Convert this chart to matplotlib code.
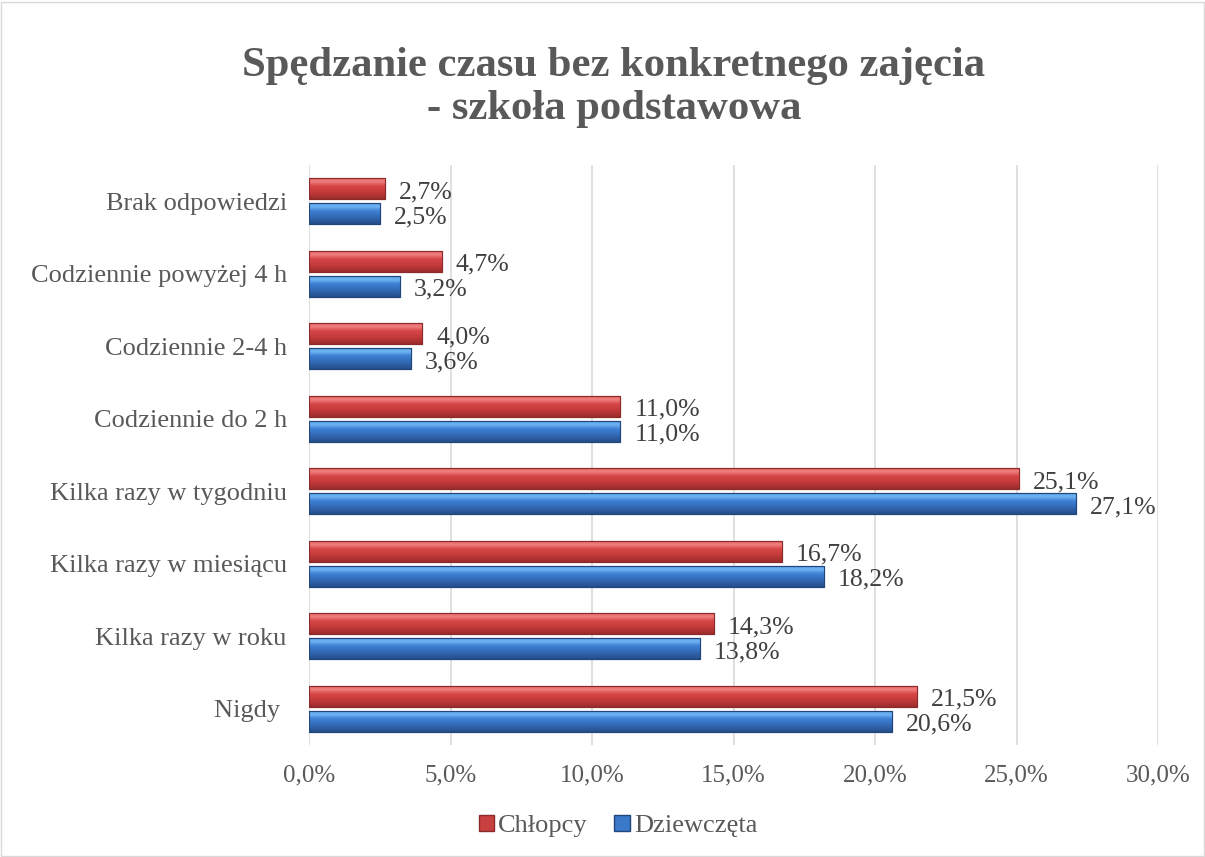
import matplotlib
matplotlib.use("Agg")
import matplotlib.pyplot as plt
import numpy as np
from matplotlib.colors import LinearSegmentedColormap
from matplotlib.patches import Rectangle, Patch

categories = ["Nigdy ", "Kilka razy w roku", "Kilka razy w miesiącu", "Kilka razy w tygodniu",
              "Codziennie do 2 h", "Codziennie 2-4 h", "Codziennie powyżej 4 h", "Brak odpowiedzi"]
chlopcy = [21.5, 14.3, 16.7, 25.1, 11.0, 4.0, 4.7, 2.7]
dziewczeta = [20.6, 13.8, 18.2, 27.1, 11.0, 3.6, 3.2, 2.5]
xticks = [0, 5, 10, 15, 20, 25, 30]

plt.rcParams['font.family'] = ['Liberation Serif', 'DejaVu Serif']
TXT = "#595959"

fig = plt.figure(figsize=(12.05, 8.57), dpi=100)
ax = fig.add_axes([309/1205, 1-745/857, (1158-309)/1205, (745-165)/857])

y = np.arange(len(categories))
h = 0.29
off = 0.175
red_cmap = LinearSegmentedColormap.from_list("r", [(0, "#9a2c2c"), (0.25, "#bd3838"), (0.6, "#d84646"), (0.8, "#f08080"), (1, "#e45a5a")])
blue_cmap = LinearSegmentedColormap.from_list("b", [(0, "#244e88"), (0.25, "#3064ad"), (0.6, "#3d80d4"), (0.8, "#70b4f2"), (1, "#4f98e4")])

bars_r = ax.barh(y + off, chlopcy, height=h, color="#d04444", edgecolor="#8a2a2a", linewidth=0.8, zorder=3)
bars_b = ax.barh(y - off, dziewczeta, height=h, color="#3a78c8", edgecolor="#22467a", linewidth=0.8, zorder=3)

grad = np.linspace(0, 1, 64).reshape(-1, 1)
for bars, cmap in ((bars_r, red_cmap), (bars_b, blue_cmap)):
    for b in bars:
        x0, y0 = b.get_x(), b.get_y()
        w, hh = b.get_width(), b.get_height()
        im = ax.imshow(grad, cmap=cmap, aspect="auto", origin="lower",
                       extent=(x0, x0 + w, y0, y0 + hh), zorder=3.5, interpolation="bilinear")
        im.set_clip_path(b)
        ax.add_patch(Rectangle((x0, y0), w, hh, fill=False, edgecolor=b.get_edgecolor(), linewidth=0.8, zorder=4))

for bars, vals in ((bars_r, chlopcy), (bars_b, dziewczeta)):
    for b, v in zip(bars, vals):
        ax.annotate(f"{v:.1f}%".replace(".", ","), (b.get_width(), b.get_y() + b.get_height()/2),
                    xytext=(10, -2.5), textcoords="offset points", va="center", ha="left",
                    fontsize=18.5, color="#404040")

ax.set_xlim(0, 30)
ax.set_ylim(-0.5, len(categories) - 0.5)
ax.set_xticks(xticks)
ax.set_xticklabels([f"{t:.1f}%".replace(".", ",") for t in xticks], fontsize=18, color=TXT)
ax.set_yticks(y)
ax.set_yticklabels(categories, fontsize=19, color=TXT)
ax.tick_params(axis="x", length=0, pad=14)
ax.tick_params(axis="y", length=0, pad=16)
ax.xaxis.grid(True, color="#d9d9d9", linewidth=1.2, zorder=0)
ax.set_axisbelow(True)
for s in ax.spines.values():
    s.set_visible(False)

tx = 614/1205
fig.text(tx, 1-66/857, "Spędzanie czasu bez konkretnego zajęcia", ha="center", va="center",
         fontsize=30.7, fontweight="bold", color=TXT)
fig.text(tx, 1-109/857, "- szkoła podstawowa", ha="center", va="center",
         fontsize=30.7, fontweight="bold", color=TXT)

handles = [Patch(facecolor="#c94040", edgecolor="#8a2a2a", label="Chłopcy"),
           Patch(facecolor="#3a78c8", edgecolor="#22467a", label="Dziewczęta")]
leg = fig.legend(handles=handles, loc="center", bbox_to_anchor=(618/1205, 1-826/857), ncol=2, frameon=False,
                 fontsize=19, handlelength=0.6, handleheight=0.6, handletextpad=0.15, columnspacing=1.0)
for t in leg.get_texts():
    t.set_color(TXT)

fig.patches.append(Rectangle((0.001, 0.001), 0.998, 0.997, transform=fig.transFigure, fill=False,
                             edgecolor="#d9d9d9", linewidth=1))
fig.savefig("out.png", dpi=100)
